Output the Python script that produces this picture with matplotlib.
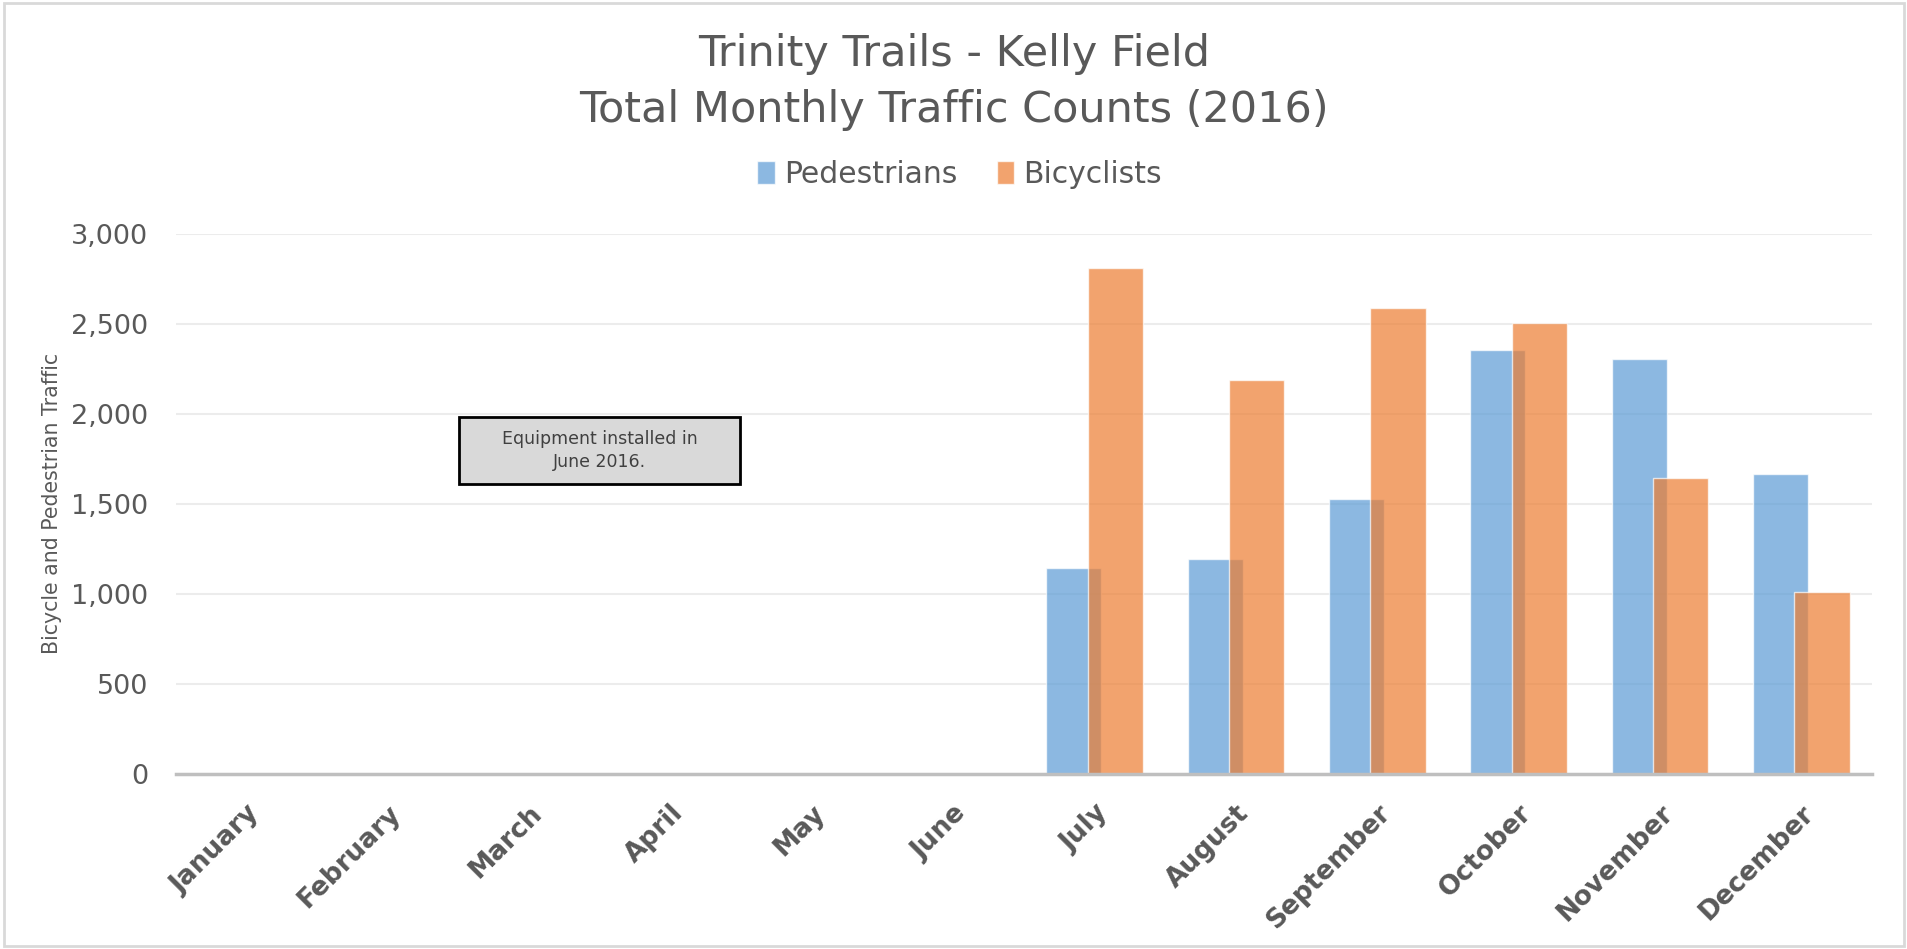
import matplotlib
matplotlib.use("Agg")
import matplotlib.pyplot as plt
import numpy as np
from matplotlib.patches import Rectangle

months = ["January", "February", "March", "April", "May", "June",
          "July", "August", "September", "October", "November", "December"]
pedestrians = [0, 0, 0, 0, 0, 0, 1145, 1195, 1526, 2356, 2303, 1667]
bicyclists = [0, 0, 0, 0, 0, 0, 2809, 2187, 2589, 2502, 1644, 1010]
yticks = [0, 500, 1000, 1500, 2000, 2500, 3000]

title1 = "Trinity Trails - Kelly Field"
title2 = "Total Monthly Traffic Counts (2016)"
ylabel = "Bicycle and Pedestrian Traffic"
note = "Equipment installed in\nJune 2016."

plt.rcParams['font.family'] = ['DejaVu Sans']
txt = '#595959'

fig = plt.figure(figsize=(19.08, 9.49), dpi=100)
ax = fig.add_axes([0.0922, 0.1847, 0.8889, 0.5690])

x = np.arange(len(months))
w = 0.39
off = 0.147
b1 = ax.bar(x - off, pedestrians, width=w, color='#5B9BD5', alpha=0.7,
            edgecolor=(1, 1, 1, 0.4), linewidth=1, label='Pedestrians', zorder=2)
b2 = ax.bar(x + off, bicyclists, width=w, color='#ED7D31', alpha=0.7,
            edgecolor=(1, 1, 1, 0.4), linewidth=1, label='Bicyclists', zorder=3)

ax.set_xlim(-0.5, len(months) - 0.5)
ax.set_ylim(0, 3000)
ax.set_yticks(yticks)
ax.set_yticklabels([f"{v:,}" for v in yticks], fontsize=19.5, color=txt)
ax.set_xticks(x)
ax.set_xticklabels(months, rotation=45, ha='right', rotation_mode='anchor',
                   fontsize=19, fontweight='bold', color=txt)
ax.tick_params(axis='both', length=0)
ax.tick_params(axis='y', pad=20)
ax.tick_params(axis='x', pad=19)
ax.grid(axis='y', color='#ececec', linewidth=1.5, zorder=0)
ax.set_axisbelow(True)
for s in ['top', 'right', 'left']:
    ax.spines[s].set_visible(False)
ax.spines['bottom'].set_color('#bfbfbf')
ax.spines['bottom'].set_linewidth(2.5)
ax.spines['bottom'].set_zorder(5)

ax.set_ylabel(ylabel, fontsize=14.8, color=txt)
ax.yaxis.set_label_coords(-0.067, 0.5)

# annotation box
ax.add_patch(Rectangle((0.1669, 0.5365), 0.1656, 0.1241, transform=ax.transAxes,
                       facecolor='#d9d9d9', edgecolor='black', linewidth=2, zorder=6))
ax.text(0.2497, 0.5985, note, transform=ax.transAxes, ha='center', va='center',
        fontsize=12.5, color='#404040', zorder=7, linespacing=1.4)

fig.text(0.5, 0.943, title1, ha='center', va='center', fontsize=31, color=txt)
fig.text(0.5, 0.884, title2, ha='center', va='center', fontsize=31, color=txt)

fig.legend(handles=[b1, b2], loc='center', bbox_to_anchor=(0.503, 0.816), ncol=2,
           frameon=False, fontsize=21.5, handlelength=0.6, handleheight=0.8,
           handletextpad=0.3, columnspacing=1.3, labelcolor=txt)

fig.patches.append(Rectangle((0.002, 0.003), 0.996, 0.994, transform=fig.transFigure,
                             fill=False, edgecolor='#d9d9d9', linewidth=2))

fig.savefig("out.png", dpi=100)
